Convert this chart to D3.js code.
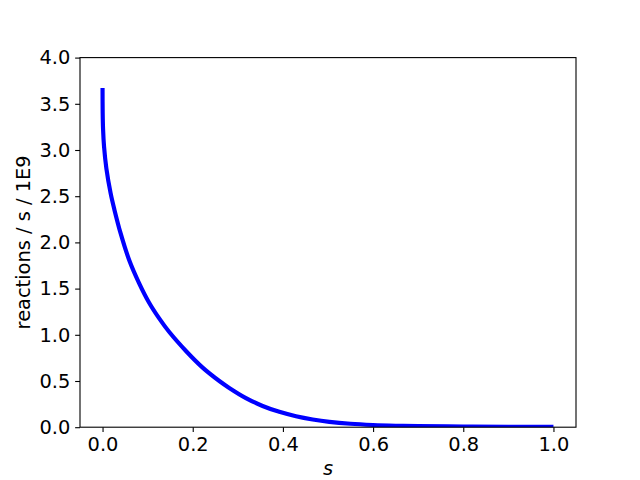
<!DOCTYPE html>
<html>
<head>
<meta charset="utf-8">
<script src="https://cdn.jsdelivr.net/npm/d3@7"></script>
<style>
  html, body { margin: 0; padding: 0; background: #fff; }
  svg { display: block; }
  text { font-family: "DejaVu Sans", sans-serif; fill: #000; }
</style>
</head>
<body>
<script>
// Data
const sValues = [0, 0.0003, 0.0012, 0.0033, 0.0085, 0.018, 0.026, 0.040, 0.059, 0.081, 0.103, 0.126, 0.148,
                 0.185, 0.222, 0.259, 0.281, 0.318, 0.355, 0.392, 0.429, 0.466, 0.503, 0.55, 0.60, 0.65, 0.70,
                 0.80, 0.90, 1.00];
const rateValues = [3.67, 3.40, 3.22, 3.04, 2.80, 2.53, 2.36, 2.10, 1.81, 1.56, 1.35, 1.175, 1.03,
                    0.825, 0.645, 0.50, 0.425, 0.315, 0.23, 0.166, 0.119, 0.084, 0.058, 0.037, 0.024, 0.016, 0.011,
                    0.007, 0.005, 0.004];
const xTicks = [0.0, 0.2, 0.4, 0.6, 0.8, 1.0];
const yTicks = [0.0, 0.5, 1.0, 1.5, 2.0, 2.5, 3.0, 3.5, 4.0];
const xLabel = "s";
const yLabel = "reactions / s / 1E9";

const W = 640, H = 480;
const L = 80, R = 576, T = 57.6, B = 427.2;

const svg = d3.select("body").append("svg").attr("width", W).attr("height", H);

const x = d3.scaleLinear().domain([-0.05, 1.05]).range([L, R]);
const y = d3.scaleLinear().domain([0, 4.0]).range([B, T]);

svg.append("defs").append("clipPath").attr("id", "clip")
  .append("rect").attr("x", L).attr("y", T).attr("width", R - L).attr("height", B - T);

const data = sValues.map((s, i) => ({s, v: rateValues[i]}));
const line = d3.line().x(d => x(d.s)).y(d => y(d.v)).curve(d3.curveCatmullRom.alpha(0.5));

svg.append("path").datum(data)
  .attr("clip-path", "url(#clip)")
  .attr("d", line)
  .attr("fill", "none")
  .attr("stroke", "#0000ff")
  .attr("stroke-width", 4.17)
  .attr("stroke-linecap", "butt")
  .attr("stroke-linejoin", "round");

const fmt = d3.format(".1f");
const xAxis = d3.axisBottom(x).tickValues(xTicks).tickFormat(fmt).tickSizeOuter(0).tickSizeInner(4.86).tickPadding(4.86);
const yAxis = d3.axisLeft(y).tickValues(yTicks).tickFormat(fmt).tickSizeOuter(0).tickSizeInner(4.86).tickPadding(4.86);

const gx = svg.append("g").attr("transform", `translate(0,${B})`).call(xAxis);
const gy = svg.append("g").attr("transform", `translate(${L},0)`).call(yAxis);
[gx, gy].forEach(g => {
  g.select(".domain").remove();
  g.selectAll(".tick line").attr("stroke", "#000").attr("stroke-width", 1.1);
  g.selectAll(".tick text").attr("font-family", "DejaVu Sans").attr("font-size", 19.4).attr("fill", "#000");
});

// frame
svg.append("rect").attr("x", L).attr("y", T).attr("width", R - L).attr("height", B - T)
  .attr("fill", "none").attr("stroke", "#000").attr("stroke-width", 1.1);

svg.append("text").attr("x", (L + R) / 2).attr("y", 475)
  .attr("text-anchor", "middle").attr("font-size", 19.4).attr("font-style", "italic")
  .text(xLabel);

svg.append("text")
  .attr("transform", `translate(30,${(T + B) / 2}) rotate(-90)`)
  .attr("text-anchor", "middle").attr("font-size", 19.4)
  .text(yLabel);
</script>
</body>
</html>
